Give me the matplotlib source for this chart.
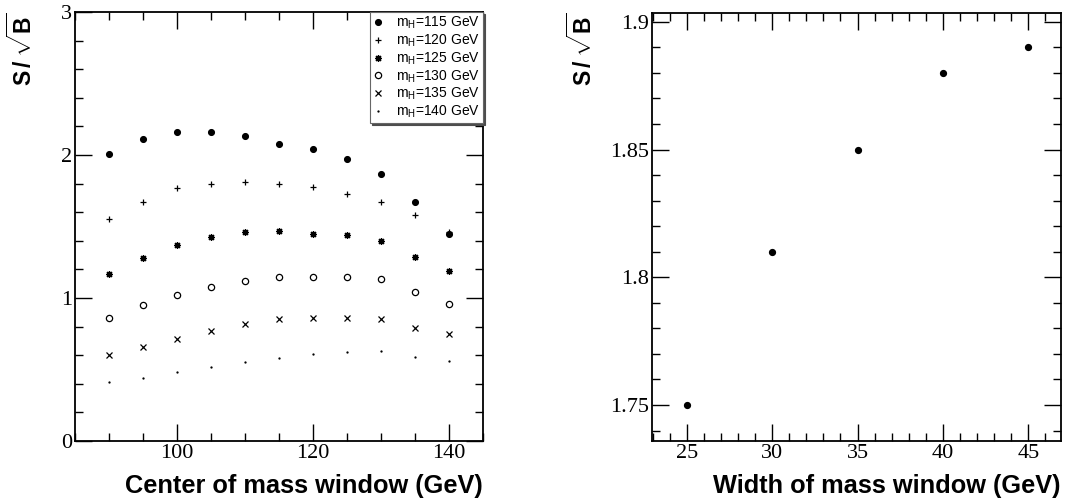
import matplotlib
matplotlib.use("Agg")
import matplotlib.pyplot as plt
from matplotlib.ticker import MultipleLocator, FormatStrFormatter

plt.rcParams['mathtext.fontset'] = 'custom'
plt.rcParams['mathtext.rm'] = 'Liberation Sans:bold'
plt.rcParams['mathtext.bf'] = 'Liberation Sans:bold'

# Left panel: S/sqrt(B) vs centre of mass window, one series per Higgs mass
centers = [90, 95, 100, 105, 110, 115, 120, 125, 130, 135, 140]
s115 = [2.01, 2.11, 2.16, 2.16, 2.13, 2.08, 2.04, 1.97, 1.87, 1.67, 1.45]
s120 = [1.55, 1.67, 1.77, 1.80, 1.81, 1.80, 1.78, 1.73, 1.67, 1.58, 1.46]
s125 = [1.17, 1.28, 1.37, 1.43, 1.46, 1.47, 1.45, 1.44, 1.40, 1.29, 1.19]
s130 = [0.86, 0.95, 1.02, 1.08, 1.12, 1.15, 1.15, 1.15, 1.13, 1.04, 0.96]
s135 = [0.60, 0.66, 0.71, 0.77, 0.82, 0.85, 0.86, 0.86, 0.85, 0.79, 0.75]
s140 = [0.41, 0.44, 0.48, 0.52, 0.55, 0.58, 0.61, 0.62, 0.63, 0.59, 0.56]
labels = ["115", "120", "125", "130", "135", "140"]

# Right panel: S/sqrt(B) vs width of mass window
widths = [25, 30, 35, 40, 45]
s_width = [1.75, 1.81, 1.85, 1.88, 1.89]

series = [s115, s120, s125, s130, s135, s140]
markers = [("o", 4.2, "k"), ("+", 5, "k"), ((8, 2, 0), 5, "k"),
           ("o", 4.5, "none"), ("x", 4.5, "k"), (".", 1.5, "k")]

fig = plt.figure(figsize=(10.68, 5.01), dpi=100)
ax1 = fig.add_axes([0.0702, 0.1198, 0.382, 0.856])
ax2 = fig.add_axes([0.6105, 0.1198, 0.3829, 0.855])

tick_font = {'family': 'Liberation Serif', 'size': 16}
title_font = {'family': 'Liberation Sans', 'size': 18.3, 'weight': 'bold'}
ylab_font = {'family': 'Liberation Sans', 'size': 16.5, 'weight': 'bold'}
ylab = r"S$\,$/$\,\sqrt{\mathrm{B}}$"


def style(ax):
    ax.tick_params(which='both', direction='in', top=True, right=True,
                   width=1, colors='k', pad=2)
    ax.tick_params(which='major', length=12)
    ax.tick_params(which='minor', length=6)
    for sp in ax.spines.values():
        sp.set_linewidth(1.3)
    for lab in ax.get_xticklabels() + ax.get_yticklabels():
        lab.set_fontfamily(tick_font['family'])
        lab.set_fontsize(tick_font['size'])


for s, (m, ms, fc), lab in zip(series, markers, labels):
    ax1.plot(centers, s, linestyle='none', marker=m, markersize=ms,
             markerfacecolor=fc, markeredgecolor='k', markeredgewidth=0.9,
             color='k', label=r"m$_\mathregular{H}$=" + lab + " GeV")

ax1.set_xlim(85, 145)
ax1.set_ylim(0, 3)
ax1.xaxis.set_major_locator(MultipleLocator(20))
ax1.xaxis.set_minor_locator(MultipleLocator(5))
ax1.yaxis.set_major_locator(MultipleLocator(1))
ax1.yaxis.set_minor_locator(MultipleLocator(0.2))
style(ax1)
ax1.set_xlabel("Center of mass window (GeV)", loc='right', fontdict=title_font,
               labelpad=8)
ax1.set_ylabel(ylab, loc='top', fontdict=ylab_font)
ax1.yaxis.set_label_coords(-0.093, 1.0)

leg = ax1.legend(loc='upper right', borderaxespad=0, fancybox=False,
                 edgecolor='0.4', framealpha=1, handlelength=0.8,
                 handletextpad=0.9, labelspacing=0.1, borderpad=0.2,
                 prop={'family': 'Liberation Sans', 'size': 10},
                 shadow={'color': '0.3', 'alpha': 1, 'ox': 1.2, 'oy': -1.2})
leg.get_frame().set_linewidth(0.8)

ax2.plot(widths, s_width, linestyle='none', marker='o', markersize=4.2,
         color='k')
ax2.set_xlim(22.97, 46.91)
ax2.set_ylim(1.7359, 1.9036)
ax2.xaxis.set_major_locator(MultipleLocator(5))
ax2.xaxis.set_minor_locator(MultipleLocator(1))
ax2.yaxis.set_major_locator(MultipleLocator(0.05))
ax2.yaxis.set_minor_locator(MultipleLocator(0.01))
ax2.yaxis.set_major_formatter(FormatStrFormatter('%g'))
style(ax2)
ax2.set_xlabel("Width of mass window (GeV)", loc='right', fontdict=title_font,
               labelpad=8)
ax2.set_ylabel(ylab, loc='top', fontdict=ylab_font)
ax2.yaxis.set_label_coords(-0.134, 1.0)

fig.savefig("out.png", dpi=100)
